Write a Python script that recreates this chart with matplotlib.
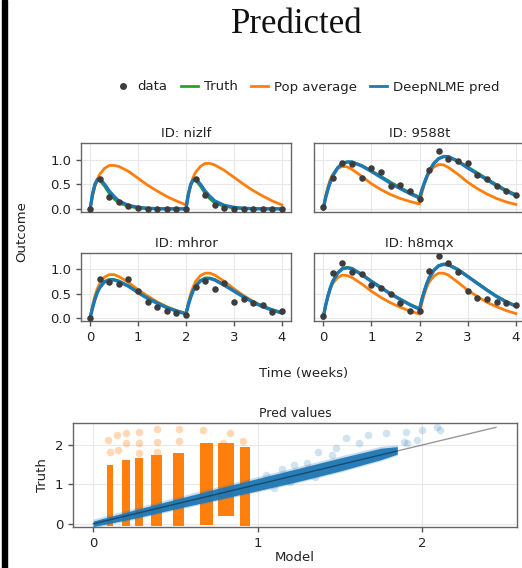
import matplotlib
matplotlib.use('Agg')
import matplotlib.pyplot as plt
from matplotlib.lines import Line2D
from matplotlib.patches import Rectangle

# colours
BLUE = '#1f77b4'
ORANGE = '#ff7f0e'
GREEN = '#2ca02c'
DOT = '#3d3d3d'
TXT = '#222222'

# ---- individual fits (time in weeks) ----
TIME = [0, 0.05, 0.1, 0.15, 0.2, 0.3, 0.4, 0.5, 0.6, 0.8, 1.0, 1.2, 1.4, 1.6, 1.8, 2.0,
        2.05, 2.1, 2.15, 2.2, 2.3, 2.4, 2.5, 2.6, 2.8, 3.0, 3.2, 3.4, 3.6, 3.8, 4.0]
OBS_TIME = [0, 0.2, 0.4, 0.6, 0.8, 1.0, 1.2, 1.4, 1.6, 1.8, 2.0,
            2.2, 2.4, 2.6, 2.8, 3.0, 3.2, 3.4, 3.6, 3.8, 4.0]

IDS = ['nizlf', '9588t', 'mhror', 'h8mqx']

nizlf_pred = [0, 0.30, 0.50, 0.59, 0.61, 0.50, 0.36, 0.25, 0.16, 0.07, 0.03, 0.01, 0.005, 0, 0, 0,
              0.30, 0.50, 0.59, 0.61, 0.50, 0.36, 0.25, 0.16, 0.07, 0.03, 0.01, 0.005, 0, 0, 0]
nizlf_truth = [0, 0.29, 0.48, 0.57, 0.58, 0.46, 0.31, 0.20, 0.12, 0.05, 0.02, 0.01, 0, 0, 0, 0,
               0.29, 0.48, 0.57, 0.58, 0.46, 0.31, 0.20, 0.12, 0.05, 0.02, 0.01, 0, 0, 0, 0]
nizlf_pop = [0, 0.25, 0.45, 0.60, 0.70, 0.82, 0.88, 0.88, 0.86, 0.76, 0.62, 0.48, 0.36, 0.25, 0.16, 0.08,
             0.31, 0.50, 0.64, 0.74, 0.86, 0.92, 0.92, 0.89, 0.78, 0.64, 0.50, 0.37, 0.26, 0.16, 0.08]
nizlf_obs = [0, 0.60, 0.23, 0.13, 0.06, 0.01, 0, 0, 0, 0, 0,
             0.60, 0.28, 0.07, 0.02, 0, 0, 0, 0, 0, 0]

t9588_pred = [0, 0.22, 0.40, 0.55, 0.67, 0.83, 0.92, 0.95, 0.95, 0.87, 0.76, 0.64, 0.52, 0.41, 0.31, 0.22,
              0.38, 0.52, 0.65, 0.76, 0.92, 1.02, 1.06, 1.06, 0.96, 0.83, 0.71, 0.59, 0.47, 0.36, 0.27]
t9588_truth = [0, 0.22, 0.40, 0.55, 0.67, 0.83, 0.92, 0.95, 0.95, 0.88, 0.77, 0.66, 0.54, 0.43, 0.33, 0.24,
               0.39, 0.53, 0.66, 0.77, 0.93, 1.02, 1.06, 1.06, 0.97, 0.85, 0.73, 0.61, 0.49, 0.38, 0.29]
t9588_pop = [0, 0.25, 0.45, 0.60, 0.70, 0.82, 0.86, 0.85, 0.80, 0.66, 0.51, 0.39, 0.29, 0.21, 0.15, 0.10,
             0.32, 0.50, 0.63, 0.73, 0.85, 0.90, 0.89, 0.84, 0.70, 0.54, 0.41, 0.30, 0.21, 0.14, 0.09]
t9588_obs = [0.03, 0.63, 0.92, 0.90, 0.63, 0.83, 0.74, 0.47, 0.49, 0.36, 0.19,
             0.79, 1.17, 1.01, 0.98, 0.93, 0.69, 0.60, 0.47, 0.37, 0.28]

mhror_pred = [0, 0.20, 0.38, 0.52, 0.62, 0.74, 0.78, 0.78, 0.75, 0.65, 0.52, 0.40, 0.30, 0.21, 0.14, 0.08,
              0.27, 0.43, 0.56, 0.65, 0.76, 0.81, 0.81, 0.78, 0.67, 0.55, 0.43, 0.32, 0.23, 0.16, 0.10]
mhror_truth = [0, 0.21, 0.39, 0.53, 0.63, 0.75, 0.79, 0.79, 0.76, 0.66, 0.53, 0.41, 0.31, 0.22, 0.15, 0.09,
               0.28, 0.44, 0.57, 0.66, 0.77, 0.82, 0.82, 0.79, 0.68, 0.56, 0.44, 0.33, 0.24, 0.17, 0.11]
mhror_pop = [0, 0.25, 0.45, 0.60, 0.71, 0.84, 0.89, 0.89, 0.85, 0.73, 0.58, 0.45, 0.33, 0.23, 0.15, 0.09,
             0.32, 0.50, 0.64, 0.75, 0.87, 0.92, 0.92, 0.88, 0.75, 0.60, 0.46, 0.34, 0.24, 0.16, 0.10]
mhror_obs = [0, 0.80, 0.74, 0.69, 0.80, 0.56, 0.33, 0.22, 0.14, 0.10, 0.06,
             0.64, 0.76, 0.59, 0.72, 0.33, 0.39, 0.30, 0.26, 0.13, 0.15]

h8mqx_pred = [0, 0.25, 0.45, 0.62, 0.75, 0.92, 1.01, 1.03, 1.01, 0.89, 0.75, 0.62, 0.49, 0.38, 0.27, 0.18,
              0.38, 0.55, 0.70, 0.82, 0.98, 1.07, 1.10, 1.09, 0.99, 0.85, 0.71, 0.57, 0.44, 0.33, 0.24]
h8mqx_truth = [0, 0.25, 0.46, 0.63, 0.76, 0.93, 1.02, 1.04, 1.02, 0.90, 0.76, 0.63, 0.50, 0.39, 0.28, 0.19,
               0.39, 0.56, 0.71, 0.83, 0.99, 1.08, 1.11, 1.10, 1.00, 0.86, 0.72, 0.58, 0.45, 0.34, 0.25]
h8mqx_pop = [0, 0.25, 0.45, 0.60, 0.71, 0.83, 0.88, 0.87, 0.83, 0.70, 0.55, 0.42, 0.31, 0.22, 0.14, 0.08,
             0.31, 0.49, 0.63, 0.74, 0.86, 0.92, 0.92, 0.88, 0.73, 0.57, 0.44, 0.32, 0.23, 0.15, 0.09]
h8mqx_obs = [0.03, 0.93, 1.13, 0.95, 0.91, 0.67, 0.61, 0.49, 0.30, 0.15, 0.15,
             0.97, 1.27, 1.12, 0.95, 0.56, 0.40, 0.38, 0.33, 0.31, 0.27]

PRED = [nizlf_pred, t9588_pred, mhror_pred, h8mqx_pred]
TRUTH = [nizlf_truth, t9588_truth, mhror_truth, h8mqx_truth]
POP = [nizlf_pop, t9588_pop, mhror_pop, h8mqx_pop]
OBS = [nizlf_obs, t9588_obs, mhror_obs, h8mqx_obs]

# ---- pred values panel ----
# population predictions: dense vertical clusters (x range, y range)
POP_XLO = [0.083, 0.174, 0.255, 0.350, 0.484, 0.650, 0.760, 0.894]
POP_XHI = [0.124, 0.225, 0.302, 0.417, 0.553, 0.730, 0.857, 0.954]
POP_YLO = [-0.06, -0.06, -0.06, -0.06, -0.06, -0.03, 0.19, -0.06]
POP_YHI = [1.49, 1.62, 1.66, 1.75, 1.79, 2.04, 2.04, 1.96]
# sparse population outliers
POP_OUT_X = [0.093, 0.144, 0.10, 0.15, 0.20, 0.20, 0.28, 0.28, 0.28, 0.39, 0.39, 0.39,
             0.52, 0.52, 0.67, 0.83, 0.91, 0.79]
POP_OUT_Y = [2.13, 2.25, 1.83, 1.87, 2.30, 2.04, 2.34, 2.04, 1.79, 2.40, 2.07, 1.83,
             2.42, 2.10, 2.38, 2.30, 2.11, 2.04]
# DeepNLME predictions: band along the diagonal
BAND_X = [0.0, 0.25, 0.5, 0.75, 1.0, 1.25, 1.5, 1.75, 1.85]
BAND_LO = [-0.07, 0.14, 0.38, 0.61, 0.84, 1.08, 1.34, 1.63, 1.77]
BAND_HI = [0.07, 0.35, 0.62, 0.89, 1.15, 1.41, 1.67, 1.92, 1.96]
# sparse DeepNLME outliers
DNL_OUT_X = [1.37, 1.54, 1.67, 1.78, 1.89, 2.00, 2.11, 2.09, 1.90, 1.48, 1.62, 1.97,
             1.91, 1.05, 1.15, 1.22, 1.30, 1.45, 1.10, 1.20, 1.35]
DNL_OUT_Y = [1.82, 2.18, 2.25, 2.30, 2.07, 2.38, 2.38, 2.46, 2.33, 1.92, 2.05, 2.13,
             2.05, 1.25, 1.38, 1.50, 1.55, 1.75, 0.92, 1.05, 1.18]
IDENT_MAX = 2.45

W, H = 522, 568
fig = plt.figure(figsize=(W / 100, H / 100), dpi=100)


def px_axes(x0, y0, x1, y1):
    return fig.add_axes([x0 / W, 1 - y1 / H, (x1 - x0) / W, (y1 - y0) / H])


def style(ax):
    for s in ax.spines.values():
        s.set_color('#666666')
        s.set_linewidth(1.0)
    ax.grid(True, color='#e8e8e8', linewidth=0.8)
    ax.set_axisbelow(True)
    ax.tick_params(colors='#555555', labelcolor=TXT, labelsize=9.5, length=3.5, width=1)


boxes = [(81, 143, 291, 212), (314, 143, 525, 212), (81, 253, 291, 321), (314, 253, 525, 321)]
for i, (box, pid) in enumerate(zip(boxes, IDS)):
    ax = px_axes(*box)
    style(ax)
    ax.plot(TIME, POP[i], color=ORANGE, lw=2.0, zorder=2)
    ax.plot(TIME, TRUTH[i], color=GREEN, lw=2.0, zorder=3)
    ax.plot(TIME, PRED[i], color=BLUE, lw=2.4, zorder=4)
    ax.scatter(OBS_TIME, OBS[i], s=22, color=DOT, lw=0, zorder=5)
    ax.set_xlim(-0.19, 4.19)
    ax.set_ylim(-0.064, 1.335)
    ax.set_xticks([0, 1, 2, 3, 4])
    ax.set_yticks([0, 0.5, 1.0])
    ax.set_title('ID: ' + pid, fontsize=9.5, color=TXT, pad=4)
    if i < 2:
        ax.tick_params(axis='x', bottom=False, labelbottom=False)
    if i % 2 == 1:
        ax.tick_params(axis='y', left=False, labelleft=False)
    else:
        ax.set_yticklabels(['0.0', '0.5', '1.0'])

# bottom panel
ax = px_axes(73, 423, 517, 527)
style(ax)
ax.bar([(a + b) / 2 for a, b in zip(POP_XLO, POP_XHI)],
       [b - a for a, b in zip(POP_YLO, POP_YHI)],
       bottom=POP_YLO,
       width=[b - a for a, b in zip(POP_XLO, POP_XHI)],
       color=ORANGE, lw=0, zorder=2)
ax.scatter(POP_OUT_X, POP_OUT_Y, s=30, color=ORANGE, alpha=0.3, lw=0, zorder=2)
ax.fill_between(BAND_X, [v - 0.03 for v in BAND_LO], [v + 0.05 for v in BAND_HI],
                color=BLUE, alpha=0.25, lw=0, zorder=3)
ax.fill_between(BAND_X, BAND_LO, BAND_HI, color=BLUE, alpha=0.95, lw=0, zorder=3)
ax.scatter(DNL_OUT_X, DNL_OUT_Y, s=30, color=BLUE, alpha=0.2, lw=0, zorder=3)
ax.plot([0, IDENT_MAX], [0, IDENT_MAX], color='black', lw=1.0, alpha=0.4, zorder=4)
ax.set_xlim(-0.122, 2.578)
ax.set_ylim(-0.08, 2.56)
ax.set_xticks([0, 1, 2])
ax.set_yticks([0, 1, 2])
ax.set_title('Pred values', fontsize=9, color=TXT, pad=4)
ax.set_xlabel('Model', fontsize=9.5, color=TXT, labelpad=1)
ax.set_ylabel('Truth', fontsize=9.5, color=TXT, labelpad=4)

# shared labels
fig.text(22 / W, 1 - 232 / H, 'Outcome', rotation=90, ha='center', va='center',
         fontsize=9.5, color=TXT)
fig.text(304 / W, 1 - 373 / H, 'Time (weeks)', ha='center', va='center',
         fontsize=9.5, color=TXT)
fig.text(297 / W, 1 - 33 / H, 'Predicted', ha='center', va='baseline',
         fontsize=25, family='Liberation Serif', color='#111111')

handles = [Line2D([], [], marker='o', ls='none', color=DOT, markersize=4.0),
           Line2D([], [], color=GREEN, lw=2),
           Line2D([], [], color=ORANGE, lw=2),
           Line2D([], [], color=BLUE, lw=2)]
fig.legend(handles, ['data', 'Truth', 'Pop average', 'DeepNLME pred'],
           loc='center', bbox_to_anchor=(307 / W, 1 - 87 / H), ncol=4, frameon=False,
           fontsize=9.5, handlelength=1.3, handletextpad=0.45, columnspacing=1.0,
           labelcolor=TXT)

# left border of the screenshot
fig.patches.append(Rectangle((2 / W, 0), 5 / W, 1, transform=fig.transFigure,
                             color='black', zorder=10))

fig.savefig('out.png', dpi=100)
